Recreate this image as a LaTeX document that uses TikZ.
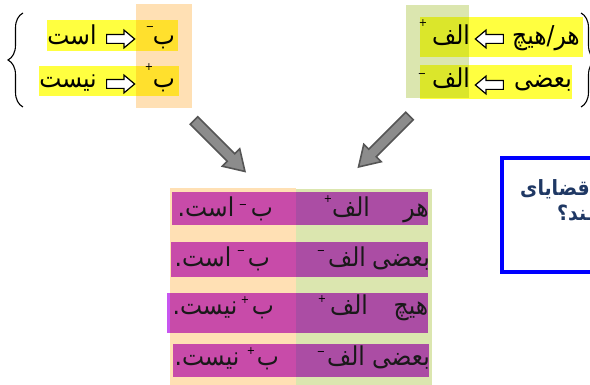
\documentclass[tikz,border=0pt]{standalone}
\usepackage{fontspec}
\usetikzlibrary{shapes.arrows,decorations.pathreplacing}
\TeXXeTstate=1
\newfontfamily\fa[Script=Arabic, FakeStretch=0.9]{DejaVu Sans}
\newcommand{\rtl}[1]{\beginR #1\endR}
\definecolor{peach}{RGB}{255,224,180}
\definecolor{lgreen}{RGB}{219,230,175}
\definecolor{hyellow}{RGB}{255,255,64}
\definecolor{hpurple}{RGB}{200,86,240}
\definecolor{navy}{RGB}{31,56,100}
\definecolor{agray}{RGB}{140,140,140}
\definecolor{adark}{RGB}{85,85,85}
\tikzset{
  w/.style={font=\fa\fontsize{26}{30}\selectfont, anchor=base, inner sep=0pt, text=black},
  wb/.style={font=\fa\fontsize{26}{30}\selectfont, anchor=base, inner sep=0pt, text=black!90},
  sg/.style={font=\fa\fontsize{11}{11}\selectfont, inner sep=0pt},
  warrow/.style={single arrow, draw=black, fill=white, line width=1.2pt, minimum height=28pt,
    inner sep=3.8pt, single arrow head extend=4.5pt, single arrow tip angle=80},
  garrow/.style={single arrow, draw=adark, fill=agray, line width=1.6pt, minimum height=72pt,
    inner sep=4.5pt, single arrow head extend=7pt, single arrow tip angle=64},
}
\begin{document}
\begin{tikzpicture}[x=1pt,y=-1pt]
\useasboundingbox (0,0) rectangle (590,385);
\clip (0,0) rectangle (590,385);

% ---------- top left group ----------
\fill[hyellow] (47,20) rectangle (178,51);
\fill[hyellow] (39,66) rectangle (179,96);
\begin{scope}[blend mode=multiply]
\fill[peach] (136,4) rectangle (192,108);
\end{scope}
\draw[line width=1.1pt, decorate, decoration={brace, amplitude=15pt}] (23,107) -- (23,13);

\node[w] (tlA) at (72,45) {\rtl{است}};
\node[warrow] (tlArrA) at (118,39) {};
\node[w] (tlB) at (164,45) {\rtl{ب}};
\node[sg] (tlBs) at (150,29) {−};

\node[w] (tlC) at (68,88) {\rtl{نیست}};
\node[warrow] (tlArrB) at (118,84) {};
\node[w] (tlD) at (164,88) {\rtl{ب}};
\node[sg] (tlDs) at (149,67) {+};

% ---------- top right group ----------
\fill[hyellow] (420,17) rectangle (583,57);
\fill[hyellow] (420,65) rectangle (572,99);
\begin{scope}[blend mode=multiply]
\fill[lgreen] (406,5) rectangle (469,98);
\end{scope}
\draw[line width=1.1pt, decorate, decoration={brace, amplitude=15pt}] (581,13) -- (581,107);

\node[w] (trA) at (451,45) {\rtl{الف}};
\node[sg] (trAs) at (423,23) {+};
\node[warrow, shape border rotate=180] (trArrA) at (492,39) {};
\node[w] (trB) at (546,45) {\rtl{هر/هیچ}};

\node[w] (trC) at (451,88) {\rtl{الف}};
\node[sg] (trCs) at (422,76) {−};
\node[warrow, shape border rotate=180] (trArrB) at (492,85) {};
\node[w] (trD) at (543,88) {\rtl{بعضی}};

% ---------- gray block arrows ----------
\node[garrow, rotate=-45] (gL) at (216.5,143) {};
\node[garrow, rotate=-135] (gR) at (387,138.5) {};

% ---------- bottom table ----------
\fill[peach] (170,188) rectangle (296,385);
\fill[lgreen] (296,189) rectangle (432,385);
\begin{scope}[blend mode=multiply]
\fill[hpurple] (172,192) rectangle (428,225);
\fill[hpurple] (171,242) rectangle (428,277);
\fill[hpurple] (167,293) rectangle (428,333);
\fill[hpurple] (173,344) rectangle (429,377);
\end{scope}

% row 1
\node[wb] (r1a) at (416,217) {\rtl{هر}};
\node[wb] (r1b) at (351,217) {\rtl{الف}};
\node[sg] (r1bs) at (328,199) {+};
\node[wb] (r1c) at (262,217) {\rtl{ب}};
\node[sg] (r1cs) at (243,207) {−};
\node[wb] (r1d) at (206,217) {\rtl{است.}};
% row 2
\node[wb] (r2a) at (401,267) {\rtl{بعضی}};
\node[wb] (r2b) at (347,267) {\rtl{الف}};
\node[sg] (r2bs) at (321,253) {−};
\node[wb] (r2c) at (259,267) {\rtl{ب}};
\node[sg] (r2cs) at (241,253) {−};
\node[wb] (r2d) at (203,267) {\rtl{است.}};
% row 3
\node[wb] (r3a) at (411,315) {\rtl{هیچ}};
\node[wb] (r3b) at (349,315) {\rtl{الف}};
\node[sg] (r3bs) at (322,299) {+};
\node[wb] (r3c) at (263,315) {\rtl{ب}};
\node[sg] (r3cs) at (245,300) {+};
\node[wb] (r3d) at (205,315) {\rtl{نیست.}};
% row 4
\node[wb] (r4a) at (401,366) {\rtl{بعضی}};
\node[wb] (r4b) at (346,366) {\rtl{الف}};
\node[sg] (r4bs) at (321,354) {−};
\node[wb] (r4c) at (268,366) {\rtl{ب}};
\node[sg] (r4cs) at (251,351) {+};
\node[wb] (r4d) at (207,366) {\rtl{نیست.}};

% ---------- blue box (cut by the right edge) ----------
\draw[blue, line width=4pt] (502,158) rectangle (620,272);
\node[font=\fa\bfseries\fontsize{21}{24}\selectfont, text=navy, anchor=base east, inner sep=0pt] (q1) at (590,196) {\rtl{قضایای}};
\node[font=\fa\bfseries\fontsize{21}{24}\selectfont, text=navy, anchor=base west, inner sep=0pt] (q2) at (557,221) {\rtl{ـند؟}};
\end{tikzpicture}
\end{document}
